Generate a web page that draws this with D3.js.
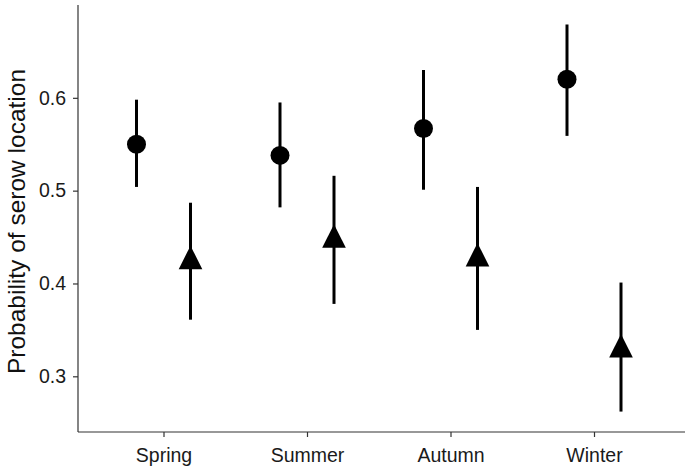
<!DOCTYPE html>
<html>
<head>
<meta charset="utf-8">
<script src="https://cdn.jsdelivr.net/npm/d3@7"></script>
<style>
  body { margin: 0; background: #fff; }
  text { font-family: "Liberation Sans", Arial, sans-serif; }
</style>
</head>
<body>
<div id="chart"></div>
<script>
// seasons and the two estimates per season (circle = first group, triangle = second)
let seasons = ["Spring", "Summer", "Autumn", "Winter"];
let circleMean  = [0.550, 0.538, 0.567, 0.620];
let circleLower = [0.504, 0.482, 0.501, 0.559];
let circleUpper = [0.598, 0.595, 0.630, 0.679];
let triMean  = [0.424, 0.447, 0.427, 0.329];
let triLower = [0.361, 0.378, 0.350, 0.262];
let triUpper = [0.487, 0.516, 0.504, 0.401];
let yTicks = [0.3, 0.4, 0.5, 0.6];

let width = 685,
    height = 471;

let svg = d3.select('#chart')
    .append("svg")
    .attr("width", width)
    .attr("height", height);

let axisX = 78, axisY = 432;

let y = d3.scaleLinear()
    .domain([0.24, 0.70])
    .range([axisY, 5]);

// group centres, used for the ticks and for the points
let xGroup = d3.scalePoint()
    .domain(seasons)
    .range([163.5, 594]);
// dodge for the two groups inside a season
let dodge = d3.scalePoint()
    .domain(["circle", "triangle"])
    .range([-27, 27]);

let circles = seasons.map((s, i) => ({season: s, mean: circleMean[i], lo: circleLower[i], hi: circleUpper[i], shape: "circle"}));
let tris = seasons.map((s, i) => ({season: s, mean: triMean[i], lo: triLower[i], hi: triUpper[i], shape: "triangle"}));
let points = circles.concat(tris);

function px(d) { return xGroup(d.season) + dodge(d.shape); }

// axes
let yAxis = svg.append("g")
    .attr("transform", `translate(${axisX},0)`)
    .call(d3.axisLeft(y).tickValues(yTicks).tickFormat(d3.format(".1f")).tickSize(5).tickPadding(7));
yAxis.select(".domain").attr("d", `M0,${axisY}V5`);

let xAxis = svg.append("g")
    .attr("transform", `translate(0,${axisY})`)
    .call(d3.axisBottom(xGroup).tickSize(5).tickPadding(11));
xAxis.select(".domain").attr("d", `M${axisX},0H${width}`);

svg.selectAll(".domain").attr("stroke", "#333").attr("stroke-width", 1.2);
svg.selectAll(".tick line").attr("stroke", "#333").attr("stroke-width", 1.2);
svg.selectAll(".tick text")
    .attr("fill", "#1a1a1a")
    .style("font-size", "19.5px");

// y label
svg.append("text")
    .attr("transform", `translate(25,221.5) rotate(-90)`)
    .style("text-anchor", "middle")
    .style("font-size", "24.5px")
    .attr("fill", "#111")
    .text("Probability of serow location");

// error bars
svg.append("g").selectAll("line")
    .data(points)
    .enter()
    .append("line")
    .attr("x1", px)
    .attr("x2", px)
    .attr("y1", d => y(d.lo))
    .attr("y2", d => y(d.hi))
    .attr("stroke", "#000")
    .attr("stroke-width", 3);

// circles
svg.append("g").selectAll("circle")
    .data(circles)
    .enter()
    .append("circle")
    .attr("cx", px)
    .attr("cy", d => y(d.mean))
    .attr("r", 9.5)
    .attr("fill", "#000");

// triangles, centred on their centroid
svg.append("g").selectAll("path")
    .data(tris)
    .enter()
    .append("path")
    .attr("transform", d => `translate(${px(d)},${y(d.mean)})`)
    .attr("d", "M0,-15.5L11.8,8L-11.8,8Z")
    .attr("fill", "#000");
</script>
</body>
</html>
